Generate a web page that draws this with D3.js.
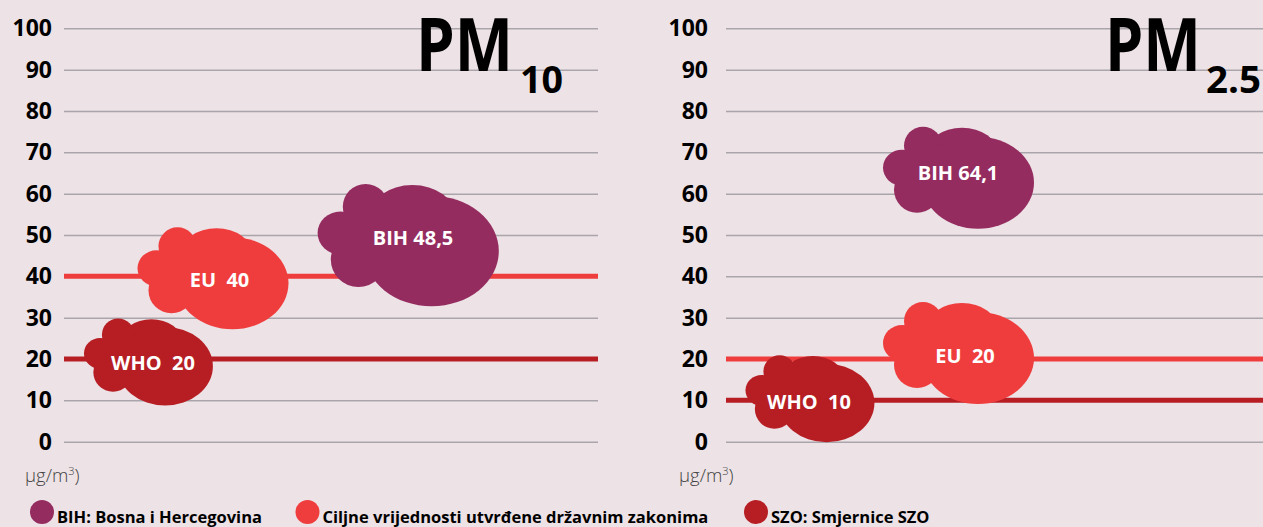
<!DOCTYPE html>
<html>

<head>
    <meta charset="utf-8" />
    <title>PM10 / PM2.5</title>
    <script src="https://d3js.org/d3.v7.min.js"></script>
    <style>
        body {
            margin: 0;
            background: #ede2e5;
        }

        svg {
            display: block;
            font-family: "Open Sans", "DejaVu Sans", sans-serif;
        }
    </style>
</head>

<body>
    <div id="chart"></div>
</body>

</html>
<script>
    // data
    const seriesKeys = ["WHO", "EU", "BIH"];
    const pm10Values = [20, 40, 48.5];
    const pm25Values = [10, 20, 64.1];
    const yTicks = [0, 10, 20, 30, 40, 50, 60, 70, 80, 90, 100];
    const panelTitles = ["PM", "PM"];
    const panelSubs = ["10", "2.5"];
    const unitLabel = "µg/m";
    const unitSup = "3";
    const legendLabels = [
        "BIH: Bosna i Hercegovina",
        "Ciljne vrijednosti utvrđene državnim zakonima",
        "SZO: Smjernice SZO"
    ];

    // colours
    const colors = { BIH: "#952c60", EU: "#ef3d3e", WHO: "#b61e24" };
    const legendColors = [colors.BIH, colors.EU, colors.WHO];

    const width = 1263, height = 527;

    // y scale shared by both panels
    const y = d3.scaleLinear().domain([0, 100]).range([441.7, 28.3]);

    // panel layout (grid start, grid width, label padding, title placement)
    const panels = [
        { x0: 64, w: 534, pad: 12, values: pm10Values, titleX: 416, titleW: 97, subX: 520, subW: 43, unitX: 25 },
        { x0: 726, w: 537, pad: 18, values: pm25Values, titleX: 1105, titleW: 96, subX: 1206, subW: 55, unitX: 679 }
    ];

    // where each cloud sits inside its panel: x offset, y shift, size, label offset
    const cloudLayout = [
        [
            { x: 90, dy: 5.5, s: 0.854, tx: -1, ty: -1.5 },
            { x: 155.5, dy: 5, s: 1.0, tx: 0, ty: -1.5 },
            { x: 352, dy: 7.5, s: 1.2, tx: -3, ty: -11 }
        ],
        [
            { x: 89.5, dy: 1, s: 0.854, tx: -6.5, ty: 0 },
            { x: 239, dy: -3, s: 1.0, tx: 0, ty: 0 },
            { x: 239, dy: 4, s: 1.0, tx: -7, ty: -8 }
        ]
    ];

    // cloud = union of a few ellipses, same fill
    const cloudParts = [
        { cx: 13, cy: 2, rx: 56, ry: 46 },
        { cx: -3, cy: -27, rx: 36, ry: 26 },
        { cx: -42, cy: -35, rx: 19, ry: 19 },
        { cx: -63, cy: -13, rx: 19, ry: 18 },
        { cx: -48, cy: 9, rx: 23, ry: 23 },
        { cx: -35, cy: -11, rx: 26, ry: 26 }
    ];

    const svg = d3.select("#chart")
        .append("svg")
        .attr("width", width)
        .attr("height", height);

    svg.append("rect")
        .attr("width", width)
        .attr("height", height)
        .attr("fill", "#ede2e5");

    function label(key, v) {
        const num = String(v).replace(".", ",");
        return key === "BIH" ? key + " " + num : key + "  " + num;
    }

    panels.forEach(function (p, pi) {
        const x = d3.scaleLinear().domain([0, p.w]).range([p.x0, p.x0 + p.w]);

        // gridlines + tick labels
        const axis = svg.append("g")
            .attr("transform", `translate(${p.x0},0)`)
            .call(d3.axisLeft(y).tickValues(yTicks).tickSize(-p.w).tickPadding(p.pad))
            .call(g => g.select(".domain").remove());
        axis.selectAll("line")
            .attr("stroke", "#aaa5ab")
            .attr("stroke-width", 1.5);
        axis.selectAll("text")
            .attr("fill", "#000")
            .attr("font-size", 23)
            .attr("font-weight", "bold")
            .attr("font-family", "'Open Sans', sans-serif");

        // limit lines for WHO and EU
        svg.append("g")
            .selectAll("line")
            .data(seriesKeys.slice(0, 2))
            .join("line")
            .attr("x1", x(0))
            .attr("x2", x(p.w))
            .attr("y1", (d, i) => y(p.values[i]))
            .attr("y2", (d, i) => y(p.values[i]))
            .attr("stroke", d => colors[d])
            .attr("stroke-width", 5);

        // clouds
        const clouds = svg.append("g")
            .selectAll("g")
            .data(seriesKeys)
            .join("g")
            .attr("transform", (d, i) => {
                const L = cloudLayout[pi][i];
                return `translate(${x(L.x)},${y(p.values[i]) + L.dy})`;
            });

        clouds.append("g")
            .attr("transform", (d, i) => `scale(${cloudLayout[pi][i].s})`)
            .attr("fill", d => colors[d])
            .selectAll("ellipse")
            .data(cloudParts)
            .join("ellipse")
            .attr("cx", d => d.cx)
            .attr("cy", d => d.cy)
            .attr("rx", d => d.rx)
            .attr("ry", d => d.ry);

        clouds.append("text")
            .attr("x", (d, i) => cloudLayout[pi][i].tx)
            .attr("y", (d, i) => cloudLayout[pi][i].ty)
            .attr("dy", "0.36em")
            .attr("text-anchor", "middle")
            .attr("fill", "#fff")
            .attr("font-size", 20)
            .attr("font-weight", "bold")
            .style("white-space", "pre")
            .text((d, i) => label(d, p.values[i]));

        // big title
        svg.append("text")
            .attr("x", p.titleX)
            .attr("y", 70.7)
            .attr("font-size", 73)
            .attr("font-weight", "bold")
            .attr("textLength", p.titleW)
            .attr("lengthAdjust", "spacingAndGlyphs")
            .text(panelTitles[pi]);
        svg.append("text")
            .attr("x", p.subX)
            .attr("y", 93.3)
            .attr("font-size", 37)
            .attr("font-weight", "bold")
            .attr("textLength", p.subW)
            .attr("lengthAdjust", "spacingAndGlyphs")
            .text(panelSubs[pi]);

        // unit
        const unit = svg.append("text")
            .attr("x", p.unitX)
            .attr("y", 482)
            .attr("font-size", 18.5)
            .attr("font-weight", 300)
            .attr("fill", "#444")
            .text(unitLabel);
        unit.append("tspan")
            .attr("dy", -7)
            .attr("font-size", 11)
            .text(unitSup);
        unit.append("tspan")
            .attr("dy", 7)
            .text(")");
    });

    // legend
    const legendX = [42, 307.5, 756];
    const legend = svg.append("g")
        .selectAll("g")
        .data(legendLabels)
        .join("g")
        .attr("transform", (d, i) => `translate(${legendX[i]},512)`);
    legend.append("circle")
        .attr("r", 12)
        .attr("fill", (d, i) => legendColors[i]);
    legend.append("text")
        .attr("x", 15)
        .attr("y", 11)
        .attr("font-size", 16.5)
        .attr("font-weight", "bold")
        .attr("fill", "#000")
        .text(d => d);
</script>
